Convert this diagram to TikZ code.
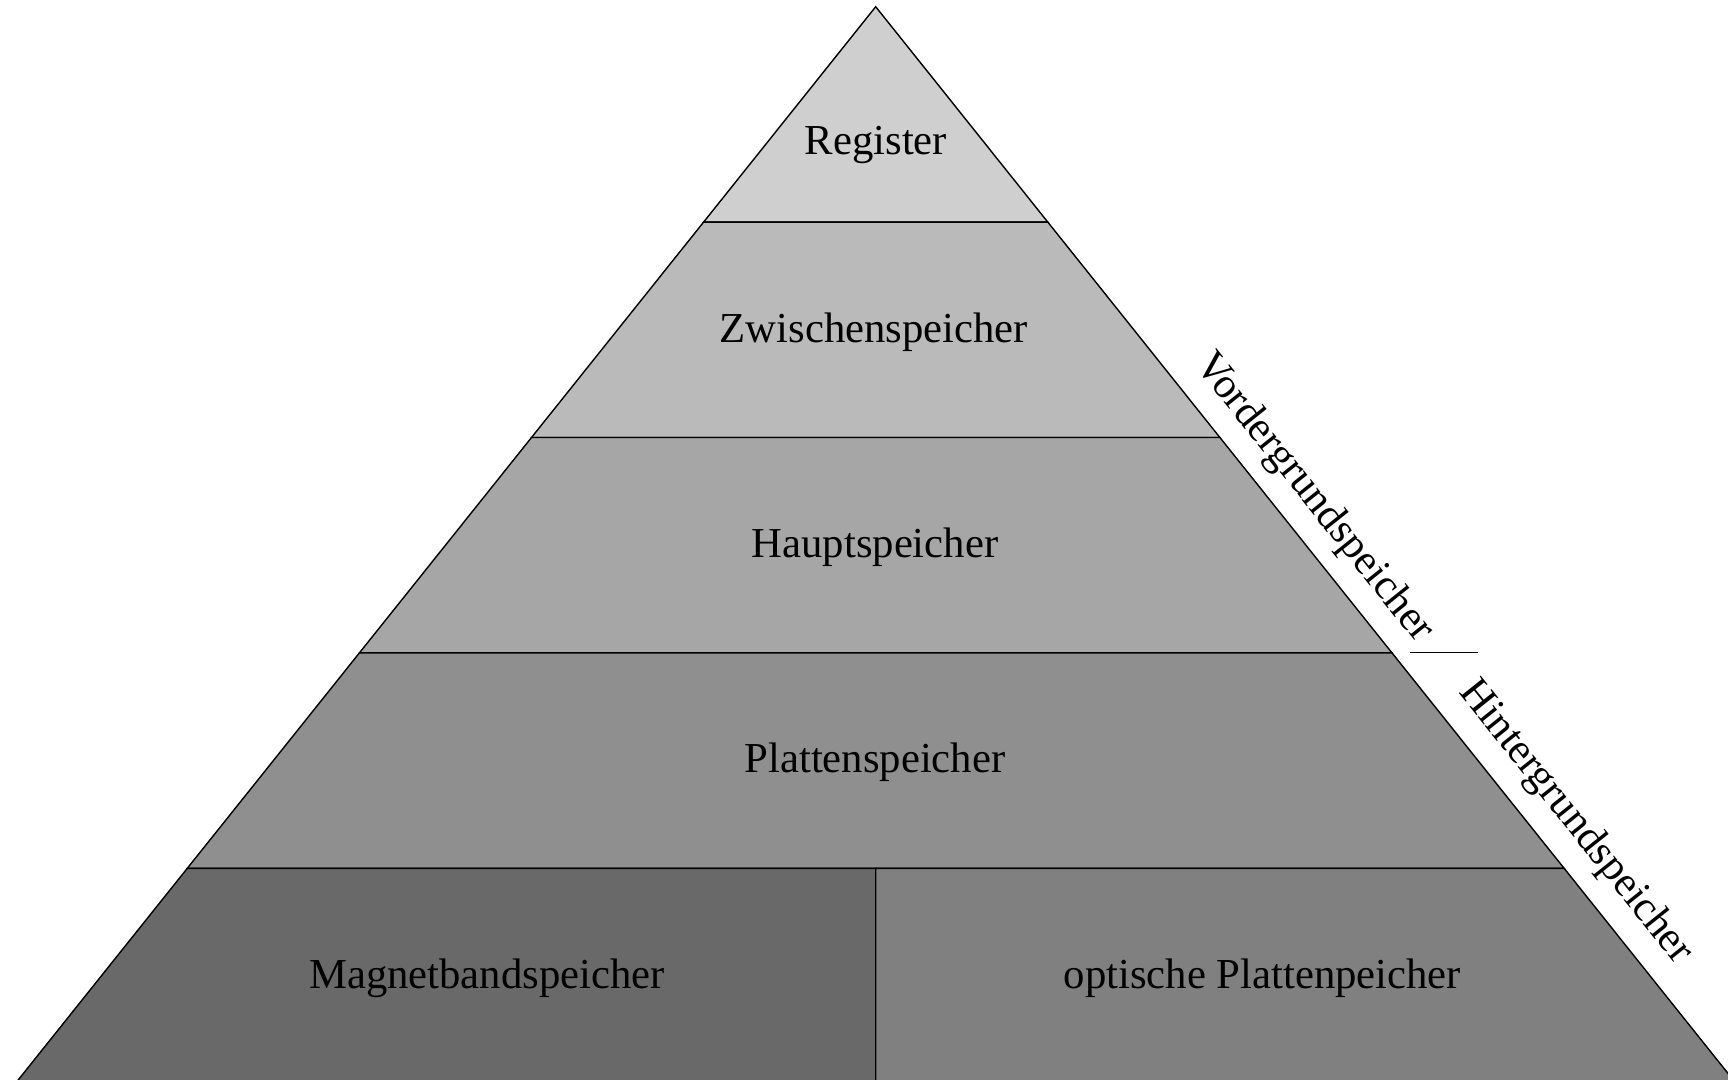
\documentclass[tikz,border=0pt]{standalone}
\usepackage{fontspec}
\setmainfont{Liberation Serif}
\usetikzlibrary{calc}
\begin{document}
\begin{tikzpicture}[x=0.02cm,y=-0.02cm,
  layer/.style={draw=black,line width=0.8pt,line join=miter},
  lbl/.style={font=\fontsize{24.3}{28}\selectfont, anchor=base, inner sep=0pt},
  side/.style={font=\fontsize{24.3}{28}\selectfont, rotate=-51.37, anchor=base west, inner sep=0pt}]
\useasboundingbox (0,0) rectangle (1728,1079);
\begin{scope}
\clip (0,0) rectangle (1728,1079);
\coordinate (A) at (875.7,6.7);
\coordinate (BL) at (15.2,1083.7);
\coordinate (BR) at (1736.2,1083.7);
\foreach \i in {1,2,3,4} {
  \coordinate (L\i) at ($(A)!\i/5!(BL)$);
  \coordinate (R\i) at ($(A)!\i/5!(BR)$);
}
\coordinate (M4) at ($(L4)!0.5!(R4)$);
\coordinate (MB) at ($(BL)!0.5!(BR)$);
\filldraw[layer, fill=black!19] (A) -- (R1) -- (L1) -- cycle;
\filldraw[layer, fill=black!27] (L1) -- (R1) -- (R2) -- (L2) -- cycle;
\filldraw[layer, fill=black!35] (L2) -- (R2) -- (R3) -- (L3) -- cycle;
\filldraw[layer, fill=black!44] (L3) -- (R3) -- (R4) -- (L4) -- cycle;
\filldraw[layer, fill=black!59] (L4) -- (M4) -- (MB) -- (BL) -- cycle;
\filldraw[layer, fill=black!50] (M4) -- (R4) -- (BR) -- (MB) -- cycle;
\end{scope}
\node[lbl] (reg) at (876,154) {Register};
\node[lbl] (zw) at (874,342.7) {Zwischenspeicher};
\node[lbl] (hs) at (875,557.5) {Hauptspeicher};
\node[lbl] (ps) at (875,772.7) {Plattenspeicher};
\node[lbl] (mb) at (487,988.3) {Magnetbandspeicher};
\node[lbl] (op) at (1262.5,988.3) {optische Plattenpeicher};
\node[side] (vg) at (1194.1,365.2) {Vordergrundspeicher};
\node[side] (hg) at (1457.8,692.0) {Hintergrundspeicher};
\coordinate (s1) at (1410,652.7);
\coordinate (s2) at (1478,652.7);
\draw[line width=0.6pt] (s1) -- (s2);
\end{tikzpicture}
\end{document}
